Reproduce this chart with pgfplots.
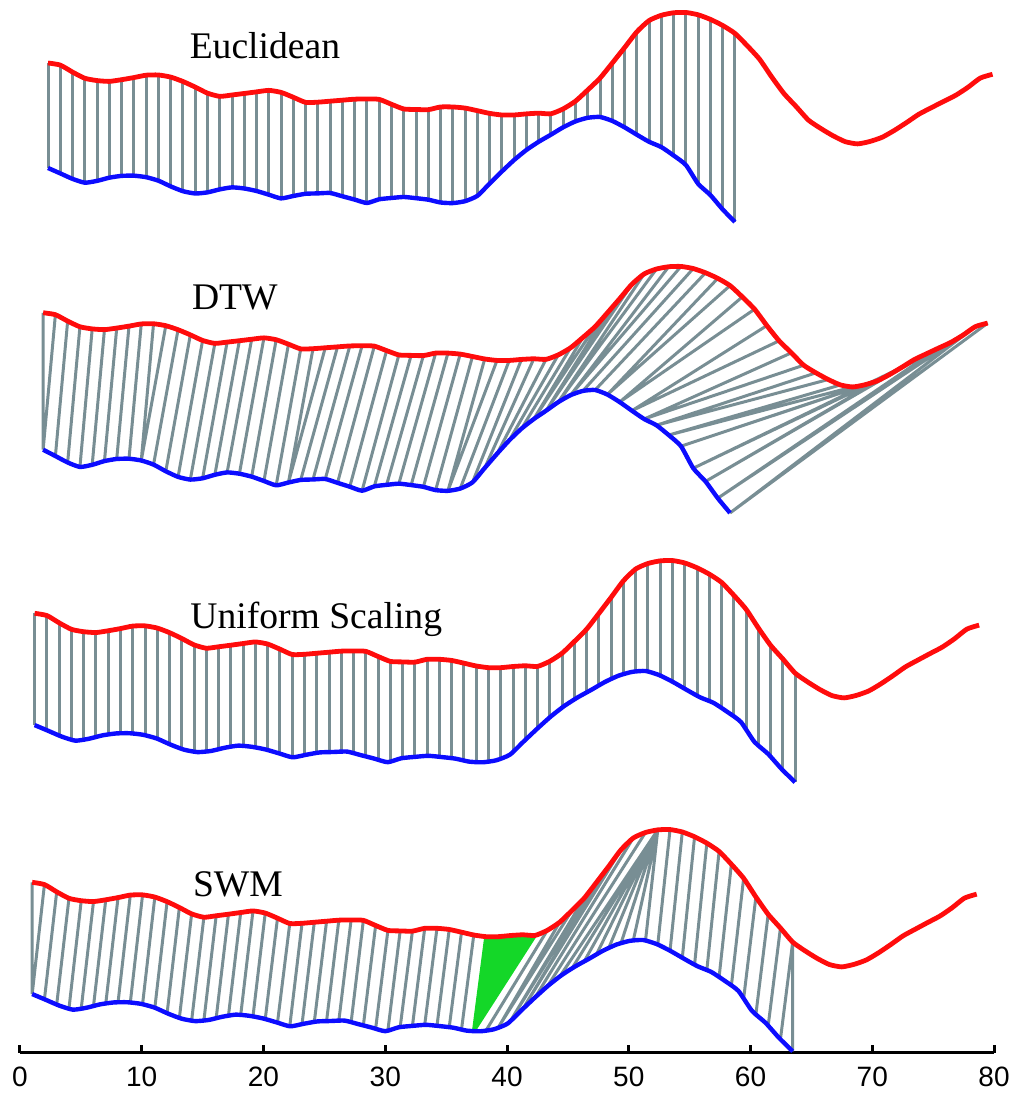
\documentclass[border=0pt]{standalone}
\usepackage{fontspec}
\setmainfont{Liberation Serif}
\setsansfont{Liberation Sans}
\usepackage{pgfplots}
\usepackage{pgfplotstable}
\pgfplotsset{compat=1.18}

\definecolor{conn}{RGB}{120,142,148}
\definecolor{cred}{RGB}{255,12,12}
\definecolor{cblue}{RGB}{12,12,255}
\definecolor{cgreen}{RGB}{20,215,40}

% red series (candidate), sample index i, value in pixel rows of the top panel
\pgfplotstableread{
i y
0 63
1 65.1
2 72.1
3 78.3
4 80.6
5 81.4
6 79.7
7 77.6
8 75.2
9 75.0
10 77.1
11 81.5
12 87.1
13 93.2
14 96.4
15 95.0
16 93.5
17 91.9
18 90.4
19 92.4
20 97.3
21 102.4
22 102.2
23 101.2
24 100.2
25 99.2
26 99.0
27 99.4
28 104.3
29 109.0
30 109.5
31 109.7
32 107.0
33 107.0
34 108.1
35 110.7
36 113.4
37 115.0
38 115.0
39 113.9
40 113.2
41 113.8
42 108.9
43 101.2
44 90.0
45 78.2
46 63.1
47 47.7
48 31.9
49 20.6
50 15.3
51 12.8
52 12.5
53 14.8
54 19.4
55 25.5
56 33.4
57 45.7
58 59.1
59 77.0
60 93.6
61 106.7
62 120.2
63 128.5
64 135.8
65 141.7
66 143.9
67 141.5
68 137.3
69 130.4
70 122.5
71 114.2
72 107.8
73 101.5
74 95.3
75 87.3
76 78.1
77 74.3
}\redtab

% blue series (query), sample index j
\pgfplotstableread{
j y
0 168
1 173.4
2 178.9
3 182.7
4 180.9
5 177.7
6 175.9
7 175.7
8 177.2
9 180.7
10 186.4
11 191.2
12 193.5
13 192.4
14 189.4
15 187.4
16 188.5
17 191.0
18 194.7
19 198.4
20 196.0
21 193.8
22 193.4
23 193.0
24 196.3
25 199.6
26 203.0
27 199.3
28 198.0
29 197.0
30 198.2
31 199.7
32 202.5
33 203.1
34 201.2
35 195.9
36 183.6
37 171.5
38 160.0
39 150.0
40 141.8
41 134.7
42 127.3
43 121.4
44 117.8
45 117.0
46 120.9
47 127.3
48 134.7
49 141.8
50 147.1
51 155.5
52 165.0
53 183.8
54 195.1
55 209.4
56 222
}\bluetab

% DTW warping path: red index, blue index
\pgfplotstableread{
i j
0 0
1 0
2 1
3 2
4 3
5 4
6 5
7 6
8 7
9 8
10 8
11 9
12 10
13 11
14 12
15 13
16 14
17 15
18 16
19 17
20 18
21 19
22 20
23 20
24 21
25 22
26 23
27 24
28 25
29 26
30 27
31 28
32 29
33 30
34 31
35 32
36 33
37 33
38 34
39 35
40 36
41 37
42 38
43 39
44 40
45 40
46 41
47 41
48 41
49 42
50 42
51 43
52 43
53 44
54 45
55 46
56 46
57 47
58 47
59 48
60 48
61 49
62 49
63 50
64 50
65 51
66 51
67 52
68 52
69 53
70 53
71 54
72 54
73 55
74 55
75 55
76 56
77 56
}\dtwpath

% SWM path: red index, rescaled blue index, green flag
\pgfplotstableread{
i k g
0 0 0
1 0 0
2 1 0
3 2 0
4 3 0
5 4 0
6 5 0
7 6 0
8 7 0
9 8 0
10 9 0
11 10 0
12 11 0
13 12 0
14 13 0
15 14 0
16 15 0
17 16 0
18 17 0
19 18 0
20 19 0
21 20 0
22 21 0
23 22 0
24 23 0
25 24 0
26 25 0
27 26 0
28 27 0
29 28 0
30 29 0
31 30 0
32 31 0
33 32 0
34 33 0
35 34 0
36 35 0
37 36 1
38 36 1
39 36 1
40 36 1
41 36 1
42 37 0
43 38 0
44 38 0
45 39 0
46 39 0
47 40 0
48 40 0
49 41 0
50 42 0
51 43 0
51 44 0
51 45 0
51 46 0
51 47 0
51 48 0
51 49 0
51 50 0
52 51 0
53 52 0
54 53 0
55 54 0
56 55 0
57 56 0
58 57 0
59 58 0
60 59 0
61 60 0
62 61 0
62 62 0
}\swmpath

\newcommand\getred[2]{\pgfplotstablegetelem{#1}{y}\of\redtab\let#2\pgfplotsretval}
\newcommand\getblue[2]{\pgfplotstablegetelem{#1}{y}\of\bluetab\let#2\pgfplotsretval}
\newcommand\blueinterp[2]{%
  \pgfmathsetmacro\bjf{#1}%
  \pgfmathtruncatemacro\bjl{min(floor(\bjf),55)}%
  \pgfmathtruncatemacro\bjh{\bjl+1}%
  \pgfmathsetmacro\bfr{\bjf-\bjl}%
  \getblue{\bjl}\bya \getblue{\bjh}\byb
  \pgfmathsetmacro#2{\bya+\bfr*(\byb-\bya)}%
}

\begin{document}
% ---- connector lists built from the tables ----
\gdef\connE{}%
\pgfplotsforeachungrouped \myN in {0,...,56}{%
  \getred{\myN}\ya \getblue{\myN}\yb
  \pgfmathsetmacro\xx{2.3+1.0075*\myN}%
  \pgfmathsetmacro\ya{-\ya}\pgfmathsetmacro\yb{-\yb}%
  \xdef\connE{\connE (\xx,\ya) (\xx,\yb) (\xx,nan)}%
}%
\gdef\connD{}%
\pgfplotstablegetrowsof{\dtwpath}\pgfmathtruncatemacro\nrD{\pgfplotsretval-1}%
\pgfplotsforeachungrouped \myR in {0,...,\nrD}{%
  \pgfplotstablegetelem{\myR}{i}\of\dtwpath \let\myI\pgfplotsretval
  \pgfplotstablegetelem{\myR}{j}\of\dtwpath \let\myJ\pgfplotsretval
  \getred{\myI}\ya \getblue{\myJ}\yb
  \pgfmathsetmacro\xa{1.9+1.0075*\myI}\pgfmathsetmacro\xb{1.9+1.0075*\myJ}%
  \pgfmathsetmacro\ya{-(255+0.917*\ya)}\pgfmathsetmacro\yb{-(253+1.171*\yb)}%
  \xdef\connD{\connD (\xa,\ya) (\xb,\yb) (\xb,nan)}%
}%
\gdef\connU{}%
\pgfplotsforeachungrouped \myN in {0,...,62}{%
  \getred{\myN}\ya
  \blueinterp{\myN*56/62}\yb
  \pgfmathsetmacro\xx{1.2+1.0075*\myN}%
  \pgfmathsetmacro\ya{-(547.5+1.045*\ya)}\pgfmathsetmacro\yb{-(547+1.06*\yb)}%
  \xdef\connU{\connU (\xx,\ya) (\xx,\yb) (\xx,nan)}%
}%
\gdef\connS{}\gdef\connG{}\gdef\connGF{}\gdef\gblue{}%
\pgfplotstablegetrowsof{\swmpath}\pgfmathtruncatemacro\nrS{\pgfplotsretval-1}%
\pgfplotsforeachungrouped \myR in {0,...,\nrS}{%
  \pgfplotstablegetelem{\myR}{i}\of\swmpath \let\myI\pgfplotsretval
  \pgfplotstablegetelem{\myR}{k}\of\swmpath \let\myK\pgfplotsretval
  \pgfplotstablegetelem{\myR}{g}\of\swmpath \let\myG\pgfplotsretval
  \getred{\myI}\ya
  \blueinterp{\myK*56/62}\yb
  \pgfmathsetmacro\xa{1.0+1.0075*\myI}\pgfmathsetmacro\xb{1.0+1.0075*\myK}%
  \pgfmathsetmacro\ya{-(816.5+1.045*\ya)}\pgfmathsetmacro\yb{-(816+1.06*\yb)}%
  \ifnum\myG=1
    \xdef\connG{\connG (\xb,\yb) (\xa,\ya) (\xa,nan)}%
    \xdef\connGF{\connGF (\xa,\ya)}%
    \xdef\gblue{(\xb,\yb)}%
  \else
    \xdef\connS{\connS (\xa,\ya) (\xb,\yb) (\xb,nan)}%
  \fi
}%
\xdef\connGF{\gblue\connGF}%
\begin{tikzpicture}
\path[use as bounding box] (-10pt,-21pt) rectangle (499.5pt,526.5pt);
\begin{axis}[
  at={(0pt,0pt)}, anchor=south west,
  scale only axis, width=487pt, height=526.5pt,
  xmin=0, xmax=80, ymin=-1053, ymax=0,
  axis x line*=bottom, axis y line=none,
  xtick={0,10,...,80}, xtick align=inside, major tick length=4pt,
  every tick/.style={black, line width=1.5pt},
  axis line style={black, line width=1.5pt},
  xticklabel style={font=\sffamily\fontsize{14}{14}\selectfont, inner sep=0pt, yshift=-7pt},
  /pgf/number format/assume math mode=true,
  clip=false,
  unbounded coords=jump,
]
\edef\tmp{\noexpand\addplot[conn, line width=1.5pt] coordinates {\connE};}\tmp
\edef\tmp{\noexpand\addplot[conn, line width=1.5pt] coordinates {\connD};}\tmp
\edef\tmp{\noexpand\addplot[conn, line width=1.5pt] coordinates {\connU};}\tmp
\edef\tmp{\noexpand\addplot[conn, line width=1.5pt] coordinates {\connS};}\tmp
\edef\tmp{\noexpand\addplot[fill=cgreen, draw=cgreen, line width=1pt, line join=round] coordinates {\connGF};}\tmp
\edef\tmp{\noexpand\addplot[cgreen, line width=1.8pt] coordinates {\connG};}\tmp

% Euclidean
\addplot[cred, line width=2.4pt, line join=round, smooth, tension=0.35] table[x expr={2.3+1.0075*\thisrow{i}}, y expr={-\thisrow{y}}] {\redtab};
\addplot[cblue, line width=2.2pt, line join=round, smooth, tension=0.35] table[x expr={2.3+1.0075*\thisrow{j}}, y expr={-\thisrow{y}}] {\bluetab};
% DTW
\addplot[cred, line width=2.4pt, line join=round, smooth, tension=0.35] table[x expr={1.9+1.0075*\thisrow{i}}, y expr={-(255+0.917*\thisrow{y})}] {\redtab};
\addplot[cblue, line width=2.2pt, line join=round, smooth, tension=0.35] table[x expr={1.9+1.0075*\thisrow{j}}, y expr={-(253+1.171*\thisrow{y})}] {\bluetab};
% Uniform scaling
\addplot[cred, line width=2.4pt, line join=round, smooth, tension=0.35] table[x expr={1.2+1.0075*\thisrow{i}}, y expr={-(547.5+1.045*\thisrow{y})}] {\redtab};
\addplot[cblue, line width=2.2pt, line join=round, smooth, tension=0.35] table[x expr={1.2+1.11545*\thisrow{j}}, y expr={-(547+1.06*\thisrow{y})}] {\bluetab};
% SWM
\addplot[cred, line width=2.4pt, line join=round, smooth, tension=0.35] table[x expr={1.0+1.0075*\thisrow{i}}, y expr={-(816.5+1.045*\thisrow{y})}] {\redtab};
\addplot[cblue, line width=2.2pt, line join=round, smooth, tension=0.35] table[x expr={1.0+1.11545*\thisrow{j}}, y expr={-(816+1.06*\thisrow{y})}] {\bluetab};

\node[anchor=base west, inner sep=0pt, font=\fontsize{18.8}{20}\selectfont] at (axis cs:13.91,-58.3) {Euclidean};
\node[anchor=base west, inner sep=0pt, font=\fontsize{18.8}{20}\selectfont] at (axis cs:14.1,-309.3) {DTW};
\node[anchor=base west, inner sep=0pt, font=\fontsize{18.8}{20}\selectfont] at (axis cs:13.96,-628.3) {Uniform Scaling};
\node[anchor=base west, inner sep=0pt, font=\fontsize{18.8}{20}\selectfont] at (axis cs:14.18,-896.7) {SWM};
\end{axis}
\end{tikzpicture}
\end{document}
